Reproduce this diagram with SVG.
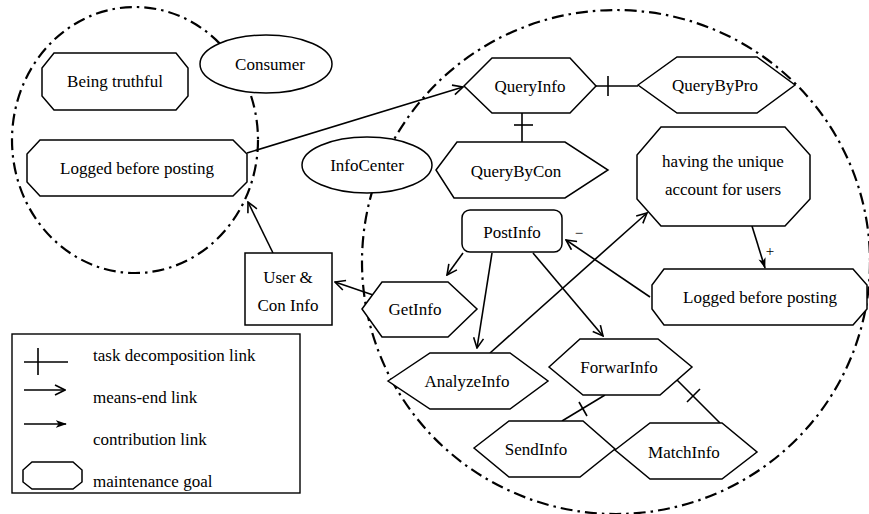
<svg xmlns="http://www.w3.org/2000/svg" width="869" height="514" viewBox="0 0 869 514">
<style>
.bd{fill:none;stroke:#000;stroke-width:2.2;stroke-dasharray:12 5 2.5 5}
.nd{fill:#fff;stroke:#000;stroke-width:1.5}
.ln{fill:none;stroke:#000;stroke-width:1.6}
text{font-family:"Liberation Serif","Times New Roman",serif;font-size:17px;fill:#000;text-anchor:middle}
.lg{text-anchor:start}
</style>
<defs>
<marker id="open" viewBox="0 0 12 12" refX="11" refY="6" markerWidth="12" markerHeight="12" orient="auto" markerUnits="userSpaceOnUse">
<path d="M1,1 L11,6 L1,11" fill="none" stroke="#000" stroke-width="1.6"/>
</marker>
<marker id="fill" viewBox="0 0 12 12" refX="11" refY="6" markerWidth="11" markerHeight="11" orient="auto" markerUnits="userSpaceOnUse">
<path d="M0,2 L12,6 L0,10 L3,6 z" fill="#000"/>
</marker>
</defs>

<g id="boundaries">
<ellipse class="bd" cx="135" cy="140" rx="123" ry="133"/>
<ellipse class="bd" cx="616" cy="262" rx="254" ry="252"/>
</g>

<g id="connectors">
<line class="ln" x1="247" y1="153" x2="463" y2="87" marker-end="url(#open)"/>
<line class="ln" x1="273" y1="253" x2="248" y2="202" marker-end="url(#open)"/>
<line class="ln" x1="376" y1="296" x2="335" y2="282" marker-end="url(#open)"/>
<line class="ln" x1="596" y1="86" x2="638" y2="86"/>
<line class="ln" x1="608" y1="76" x2="608" y2="96"/>
<line class="ln" x1="522" y1="113" x2="522" y2="142"/>
<line class="ln" x1="514" y1="125" x2="533" y2="125"/>
<line class="ln" x1="463" y1="253" x2="447" y2="275" marker-end="url(#open)"/>
<line class="ln" x1="492" y1="253" x2="477" y2="348" marker-end="url(#open)"/>
<line class="ln" x1="533" y1="253" x2="603" y2="336" marker-end="url(#open)"/>
<line class="ln" x1="490" y1="353" x2="647" y2="213" marker-end="url(#open)"/>
<line class="ln" x1="650" y1="297" x2="566" y2="240" marker-end="url(#open)"/>
<line class="ln" x1="752" y1="226" x2="765" y2="268" marker-end="url(#fill)"/>
<line class="ln" x1="605" y1="395" x2="562" y2="421"/>
<line class="ln" x1="579" y1="402" x2="587" y2="416"/>
<line class="ln" x1="677" y1="380" x2="720" y2="423"/>
<line class="ln" x1="700" y1="389" x2="687" y2="402"/>
<text x="579" y="238" style="font-size:15px">−</text>
<text x="770" y="256" style="font-size:15px">+</text>
</g>

<g id="consumer">
<ellipse class="nd" cx="266" cy="64" rx="66" ry="29"/>
<text x="270" y="70">Consumer</text>
</g>
<g id="being-truthful">
<polygon class="nd" points="54,53 176,53 188,68 188,96 176,110 54,110 42,96 42,68"/>
<text x="115" y="87">Being truthful</text>
</g>
<g id="logged-left">
<polygon class="nd" points="40,140 233,140 247,154 247,182 233,196 40,196 27,182 27,154"/>
<text x="137" y="174">Logged before posting</text>
</g>
<g id="infocenter">
<ellipse class="nd" cx="367" cy="165" rx="65" ry="28"/>
<text x="367" y="171">InfoCenter</text>
</g>
<g id="queryinfo">
<polygon class="nd" points="464,86 492,58 570,58 596,86 570,113 492,113"/>
<text x="530" y="92">QueryInfo</text>
</g>
<g id="querybypro">
<polygon class="nd" points="638,85 677,57 757,57 795,85 757,113 677,113"/>
<text x="715" y="91">QueryByPro</text>
</g>
<g id="querybycon">
<polygon class="nd" points="436,170 457,142 565,142 608,170 565,198 454,198"/>
<text x="516" y="177">QueryByCon</text>
</g>
<g id="having-unique">
<polygon class="nd" points="661,127 785,127 810,155 810,199 785,226 661,226 637,199 637,155"/>
<text x="723" y="167">having the unique</text>
<text x="723" y="195">account for users</text>
</g>
<g id="postinfo">
<rect class="nd" x="462" y="210" width="100" height="42" rx="8"/>
<text x="512" y="238">PostInfo</text>
</g>
<g id="logged-right">
<polygon class="nd" points="664,269 853,269 867,285 867,309 853,325 664,325 652,309 652,285"/>
<text x="760" y="303">Logged before posting</text>
</g>
<g id="user-con-info">
<rect class="nd" x="245" y="253" width="87" height="72"/>
<text x="288" y="283">User &amp;</text>
<text x="288" y="311">Con Info</text>
</g>
<g id="getinfo">
<polygon class="nd" points="362,309 382,282 448,282 477,309 448,337 382,337"/>
<text x="415" y="315">GetInfo</text>
</g>
<g id="analyzeinfo">
<polygon class="nd" points="388,381 430,353 510,353 548,381 510,409 430,409"/>
<text x="467" y="387">AnalyzeInfo</text>
</g>
<g id="forwarinfo">
<polygon class="nd" points="549,367 580,339 658,339 692,367 660,395 583,395"/>
<text x="619" y="373">ForwarInfo</text>
</g>
<g id="sendinfo">
<polygon class="nd" points="474,448 509,421 583,421 615,449 580,477 509,477"/>
<text x="536" y="455">SendInfo</text>
</g>
<g id="matchinfo">
<polygon class="nd" points="615,450 650,423 722,423 757,452 722,479 650,479"/>
<text x="684" y="458">MatchInfo</text>
</g>

<g id="legend">
<rect x="12" y="334" width="288" height="159" fill="#fff" stroke="#000" stroke-width="1.4"/>
<line class="ln" x1="24" y1="362" x2="68" y2="362"/>
<line class="ln" x1="38" y1="348" x2="38" y2="375"/>
<text class="lg" x="93" y="361">task decomposition link</text>
<line class="ln" x1="24" y1="390" x2="65" y2="390" marker-end="url(#open)"/>
<text class="lg" x="93" y="403">means-end link</text>
<line class="ln" x1="24" y1="424" x2="66" y2="424" marker-end="url(#fill)"/>
<text class="lg" x="93" y="445">contribution link</text>
<polygon class="nd" points="32,462 73,462 82,470 82,482 73,489 32,489 23,482 23,470"/>
<text class="lg" x="93" y="487">maintenance goal</text>
</g>
</svg>
